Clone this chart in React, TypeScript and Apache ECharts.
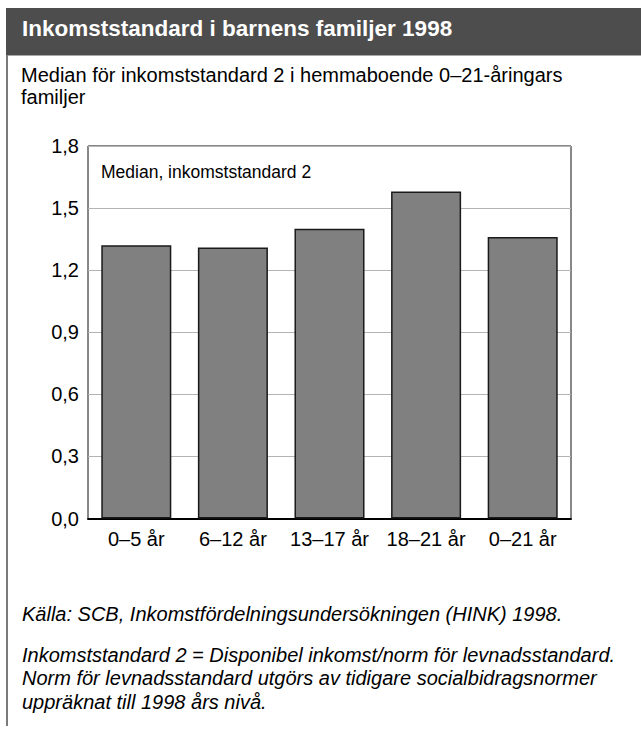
import React, { useEffect, useRef } from "react";
import * as echarts from "echarts";

const categories = ["0–5 år", "6–12 år", "13–17 år", "18–21 år", "0–21 år"];
const medianValues = [1.32, 1.31, 1.4, 1.58, 1.36];
const yTicks = [0, 0.3, 0.6, 0.9, 1.2, 1.5, 1.8];

const titleText = "Inkomststandard i barnens familjer 1998";
const subtitleLines = ["Median för inkomststandard 2 i hemmaboende 0–21-åringars", "familjer"];
const innerLabel = "Median, inkomststandard 2";
const sourceText = "Källa: SCB, Inkomstfördelningsundersökningen (HINK) 1998.";
const noteLines = [
  "Inkomststandard 2 = Disponibel inkomst/norm för levnadsstandard.",
  "Norm för levnadsstandard utgörs av tidigare socialbidragsnormer",
  "uppräknat till 1998 års nivå.",
];

const FONT = '"Liberation Sans", Arial, sans-serif';

export default function App() {
  const ref = useRef<HTMLDivElement>(null);
  useEffect(() => {
    document.body.style.margin = "0";
    if (!ref.current) return;
    const chart = echarts.init(ref.current, null, { renderer: "svg" });
    const txt = (text: string, x: number, y: number, font: string, fill = "#000") => ({
      type: "text",
      x,
      y,
      silent: true,
      style: { text, font, fill, textAlign: "left", textVerticalAlign: "middle", verticalAlign: "middle" },
    });
    chart.setOption({
      animation: false,
      backgroundColor: "#ffffff",
      grid: {
        left: 88,
        top: 146,
        width: 483,
        height: 372.5,
        show: true,
        borderColor: "#111",
        borderWidth: 1,
        backgroundColor: "transparent",
        containLabel: false,
      },
      xAxis: {
        type: "category",
        data: categories,
        axisLine: { show: true, lineStyle: { color: "#000", width: 2 } },
        axisTick: { show: false },
        axisLabel: { color: "#000", fontSize: 20, fontFamily: FONT, margin: 10, interval: 0 },
        splitLine: { show: false },
      },
      yAxis: {
        type: "value",
        min: 0,
        max: 1.8,
        interval: 0.3,
        axisLine: { show: false },
        axisTick: { show: false },
        axisLabel: {
          color: "#000",
          fontSize: 20,
          fontFamily: FONT,
          margin: 9,
          formatter: (v: number) => {
            const t = yTicks.find((k) => Math.abs(k - v) < 1e-6);
            return (t ?? v).toFixed(1).replace(".", ",");
          },
        },
        splitLine: { show: true, lineStyle: { color: "#b4b4b4", width: 1 } },
      },
      series: [
        {
          type: "bar",
          data: medianValues,
          barCategoryGap: "27.5%",
          itemStyle: { color: "#808080", borderColor: "#1a1a1a", borderWidth: 1.5 },
          emphasis: { disabled: true },
        },
      ],
      graphic: [
        { type: "rect", shape: { x: 6, y: 8, width: 635, height: 47 }, style: { fill: "#4d4d4d" }, silent: true },
        { type: "rect", shape: { x: 6, y: 55, width: 635, height: 1 }, style: { fill: "#a8a8a8" }, silent: true },
        { type: "rect", shape: { x: 6, y: 55, width: 2, height: 671 }, style: { fill: "#7a7a7a" }, silent: true },
        txt(titleText, 22, 28, `bold 22.5px ${FONT}`, "#ffffff"),
        txt(subtitleLines[0], 21, 75, `20px ${FONT}`),
        txt(subtitleLines[1], 21, 97, `20px ${FONT}`),
        txt(innerLabel, 101, 172, `17.5px ${FONT}`),
        txt(sourceText, 22, 614, `italic 20px ${FONT}`),
        txt(noteLines[0], 22, 655, `italic 20px ${FONT}`),
        txt(noteLines[1], 22, 678, `italic 20px ${FONT}`),
        txt(noteLines[2], 22, 702, `italic 20px ${FONT}`),
      ],
    });
    return () => chart.dispose();
  }, []);
  return <div ref={ref} style={{ width: 641, height: 733 }} />;
}
